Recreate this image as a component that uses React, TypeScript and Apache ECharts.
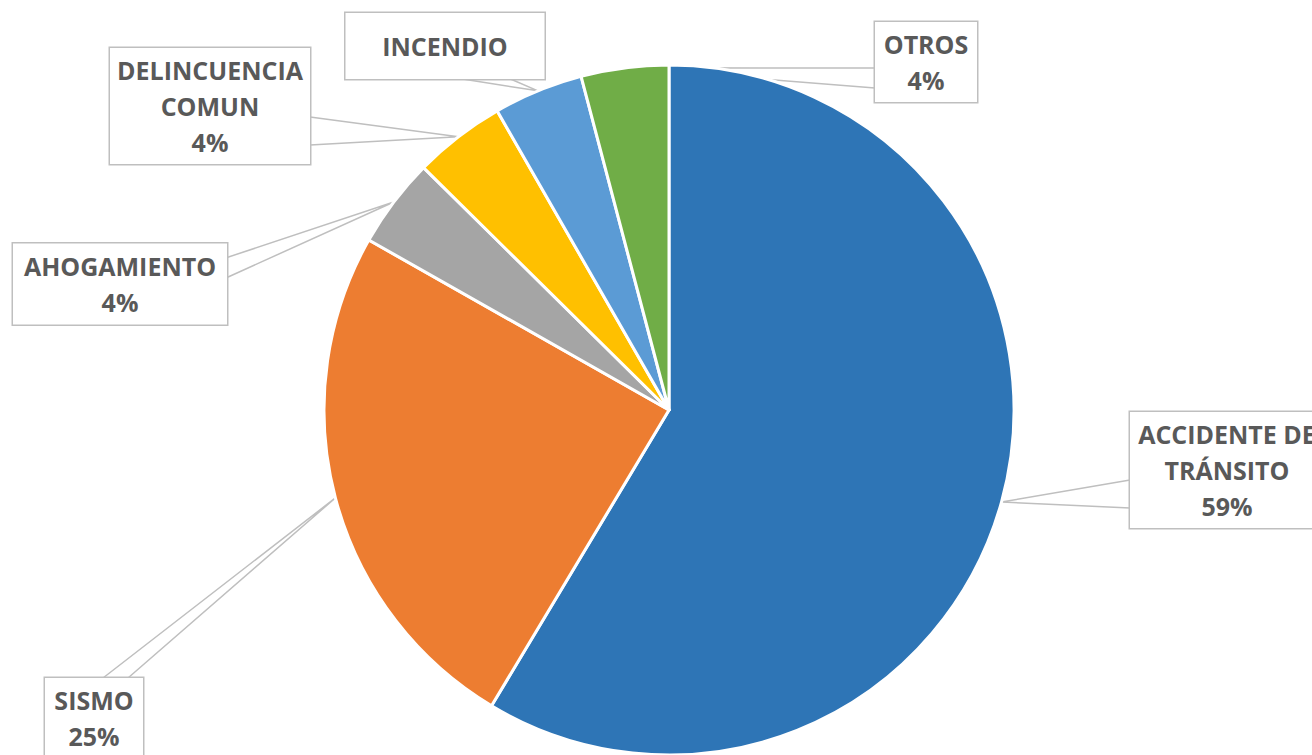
import React, { useEffect, useRef } from "react";
import * as echarts from "echarts";

const categories = ["ACCIDENTE DE TRÁNSITO", "SISMO", "AHOGAMIENTO", "DELINCUENCIA COMUN", "INCENDIO", "OTROS"];
const values = [58.6, 24.6, 4.2, 4.3, 4.2, 4.1];
const colors = ["#2E75B6", "#ED7D31", "#A5A5A5", "#FFC000", "#5B9BD5", "#70AD47"];
const labelTexts = ["ACCIDENTE DE\nTRÁNSITO", "SISMO", "AHOGAMIENTO", "DELINCUENCIA\nCOMUN", "INCENDIO", "OTROS"];
const showPercent = [true, true, true, true, false, true];

// label box layout: center x, center y, width, height
const boxes = [
  { cx: 1227, cy: 470, w: 194, h: 116 },
  { cx: 94, cy: 718, w: 98, h: 80 },
  { cx: 120, cy: 284, w: 214, h: 81 },
  { cx: 210, cy: 106, w: 200, h: 116 },
  { cx: 445, cy: 46, w: 199, h: 66 },
  { cx: 926, cy: 62, w: 102, h: 80 },
];
// callout wedge base: side of the box and offsets along it (from left / top)
const wedges = [
  { side: "left", a: 68, b: 96 },
  { side: "top", a: 58, b: 83 },
  { side: "right", a: 14, b: 34 },
  { side: "right", a: 69, b: 97 },
  { side: "bottom", a: 117, b: 165 },
  { side: "left", a: 46, b: 66 },
];

const FONT = "'Open Sans', sans-serif";

function wedgePoint(i: number, off: number): number[] {
  const b = boxes[i];
  const left = b.cx - b.w / 2;
  const top = b.cy - b.h / 2;
  const w = wedges[i];
  if (w.side === "left") return [left, top + off];
  if (w.side === "right") return [left + b.w, top + off];
  if (w.side === "top") return [left + off, top];
  return [left + off, top + b.h];
}

export default function App() {
  const ref = useRef<HTMLDivElement>(null);
  useEffect(() => {
    if (!ref.current) return;
    const chart = echarts.init(ref.current, undefined, { renderer: "svg" });
    const lineH = 36;
    const data = categories.map((name, i) => {
      const b = boxes[i];
      const lines = labelTexts[i].split("\n").length + (showPercent[i] ? 1 : 0);
      const padV = Math.max(0, (b.h - lines * lineH) / 2);
      return {
        name,
        value: values[i],
        itemStyle: { color: colors[i] },
        label: {
          formatter: (p: any) =>
            labelTexts[p.dataIndex] + (showPercent[p.dataIndex] ? "\n" + p.percent + "%" : ""),
          width: b.w,
          padding: [padV, 0, padV, 0],
        },
      };
    });
    chart.setOption({
      animation: false,
      backgroundColor: "#ffffff",
      series: [
        {
          type: "pie",
          center: [669, 410],
          radius: 345,
          startAngle: 90,
          clockwise: true,
          avoidLabelOverlap: false,
          percentPrecision: 0,
          data,
          itemStyle: { borderColor: "#ffffff", borderWidth: 3 },
          label: {
            show: true,
            position: "outside",
            fontFamily: FONT,
            fontWeight: "bold",
            fontSize: 25,
            lineHeight: 36,
            color: "#595959",
            align: "center",
            backgroundColor: "#ffffff",
            borderColor: "#BFBFBF",
            borderWidth: 1.5,
          },
          labelLine: {
            show: true,
            length: 10,
            length2: 0,
            lineStyle: { color: "#BFBFBF", width: 1.5 },
          },
          labelLayout: (params: any) => {
            const i = params.dataIndex;
            const b = boxes[i];
            const tip = params.labelLinePoints ? params.labelLinePoints[0] : null;
            const res: any = { x: b.cx, y: b.cy, align: "center", verticalAlign: "middle" };
            if (tip) {
              res.labelLinePoints = [wedgePoint(i, wedges[i].a), [tip[0], tip[1]], wedgePoint(i, wedges[i].b)];
            }
            return res;
          },
          emphasis: { disabled: true },
        },
      ],
    });
    return () => chart.dispose();
  }, []);
  return (
    <div
      ref={ref}
      style={{ position: "fixed", left: 0, top: 0, width: 1312, height: 755, background: "#fff" }}
    />
  );
}
